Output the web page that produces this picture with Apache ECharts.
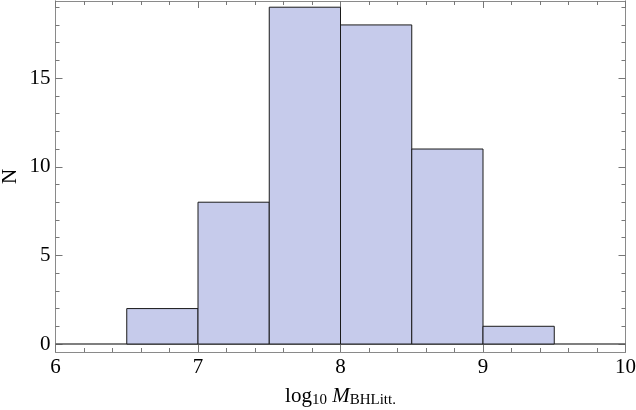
<!DOCTYPE html>
<html><head><meta charset="utf-8">
<script src="https://cdn.jsdelivr.net/npm/echarts@6/dist/echarts.min.js"></script>
<style>html,body{margin:0;padding:0;background:#fff}#c{width:636px;height:410px}</style>
</head><body><div id="c"></div>
<script>
const binStarts = [6.5, 7.0, 7.5, 8.0, 8.5, 9.0];
const binEnds = [7.0, 7.5, 8.0, 8.5, 9.0, 9.5];
const counts = [2, 8, 19, 18, 11, 1];
const xMajor = [6, 7, 8, 9, 10];
const yMajor = [0, 5, 10, 15];

const xMinor = [];
for (let i = 0; i <= 20; i++) { const v = +(6 + i * 0.2).toFixed(1); if (i % 5) xMinor.push(v); }
const yMinor = [];
for (let i = 0; i <= 19; i++) { if (i % 5) yMinor.push(i); }

const font = 'Liberation Serif';
const frame = '#8a8a8a';
const X0 = 6, X1 = 10, Y0 = -0.45, Y1 = 19.35;

function xAx(pos, ticks, len, labels, extra) {
  return Object.assign({
    type: 'value', min: X0, max: X1, position: pos,
    axisLine: { show: true, onZero: false, lineStyle: { color: frame, width: 1 } },
    axisTick: { show: true, inside: true, length: len, customValues: ticks, lineStyle: { color: '#777' } },
    axisLabel: labels ? { show: true, customValues: ticks, fontFamily: font, fontSize: 21, color: '#000', margin: 5 } : { show: false },
    splitLine: { show: false }
  }, extra || {});
}
function yAx(pos, ticks, len, labels, extra) {
  return Object.assign({
    type: 'value', min: Y0, max: Y1, position: pos,
    axisLine: { show: true, onZero: false, lineStyle: { color: frame, width: 1 } },
    axisTick: { show: true, inside: true, length: len, customValues: ticks, lineStyle: { color: '#777' } },
    axisLabel: labels ? { show: true, customValues: ticks, fontFamily: font, fontSize: 21, color: '#000', margin: 5 } : { show: false },
    splitLine: { show: false }
  }, extra || {});
}

const chart = echarts.init(document.getElementById('c'), null, { renderer: 'canvas' });
chart.setOption({
  animation: false,
  grid: { left: 55.5, right: 10.5, top: 1, bottom: 58, containLabel: false, outerBoundsMode: 'none' },
  xAxis: [
    xAx('bottom', xMajor, 7, true, {
      name: '{n|log}{s|10} {i|M}{s|BHLitt.}', nameLocation: 'middle', nameGap: 32, nameMoveOverlap: false,
      nameTextStyle: { fontFamily: font, fontSize: 21, color: '#000',
        rich: { n: { fontFamily: font, fontSize: 21, color: '#000' },
                s: { fontFamily: font, fontSize: 15, color: '#000', verticalAlign: 'bottom', padding: [9, 0, 0, 0] },
                i: { fontFamily: font, fontSize: 21, fontStyle: 'italic', color: '#000' } } }
    }),
    xAx('bottom', xMinor, 4, false),
    xAx('top', xMajor, 7, false),
    xAx('top', xMinor, 4, false)
  ],
  yAxis: [
    yAx('left', yMajor, 7, true, {
      name: 'N', nameLocation: 'middle', nameGap: 35, nameRotate: 90, nameMoveOverlap: false,
      nameTextStyle: { fontFamily: font, fontSize: 21, color: '#000' }
    }),
    yAx('left', yMinor, 4, false),
    yAx('right', yMajor, 7, false),
    yAx('right', yMinor, 4, false)
  ],
  series: [
    {
      type: 'line', xAxisIndex: 0, yAxisIndex: 0, data: [[X0, 0], [X1, 0]],
      symbol: 'none', lineStyle: { color: '#555', width: 1.5 }, z: 3
    },
    {
      type: 'custom', xAxisIndex: 0, yAxisIndex: 0, z: 4,
      data: binStarts.map((s, i) => [s, binEnds[i], counts[i]]),
      renderItem: function (params, api) {
        const p0 = api.coord([api.value(0), api.value(2)]);
        const p1 = api.coord([api.value(1), 0]);
        return {
          type: 'rect',
          shape: { x: p0[0], y: p0[1], width: p1[0] - p0[0], height: p1[1] - p0[1] },
          style: { fill: '#c6cbeb', stroke: '#1a1a1a', lineWidth: 1 }
        };
      }
    }
  ]
});
</script></body></html>
